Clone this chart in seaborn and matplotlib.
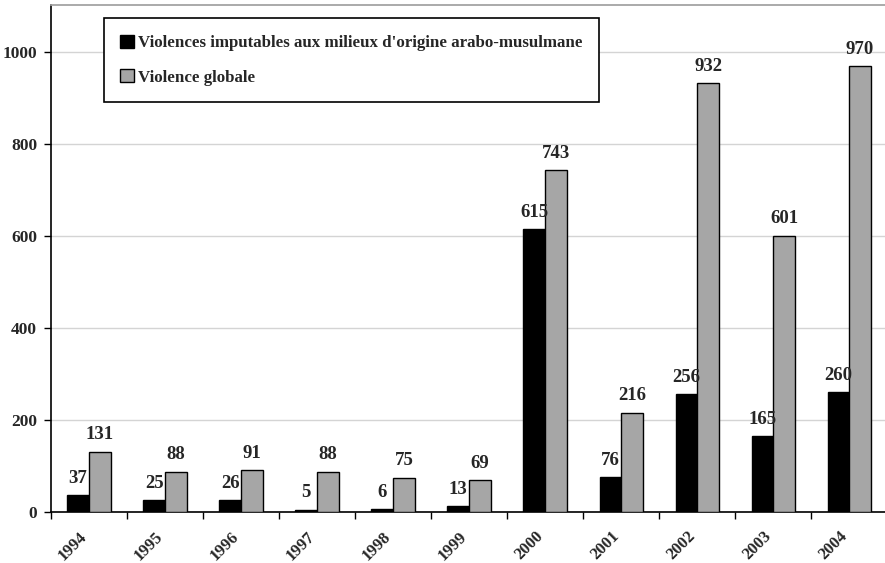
import numpy as np
import pandas as pd
import matplotlib
matplotlib.use("Agg")
import matplotlib.pyplot as plt
import matplotlib.transforms as mtransforms
import seaborn as sns
from matplotlib.ticker import FixedLocator

years = ["1994", "1995", "1996", "1997", "1998", "1999", "2000", "2001", "2002", "2003", "2004"]
arabo = [37, 25, 26, 5, 6, 13, 615, 76, 256, 165, 260]
globale = [131, 88, 91, 88, 75, 69, 743, 216, 932, 601, 970]
series_names = ["Violences imputables aux milieux d'origine arabo-musulmane", "Violence globale"]
yticks = [0, 200, 400, 600, 800, 1000]

df = pd.DataFrame({
    "annee": years * 2,
    "valeur": arabo + globale,
    "serie": [series_names[0]] * len(years) + [series_names[1]] * len(years),
})

sns.set_theme(style="white")
plt.rcParams["font.family"] = ["Liberation Serif", "DejaVu Serif"]
plt.rcParams["font.weight"] = "bold"

fig = plt.figure(figsize=(8.85, 5.63), dpi=100)
ax = fig.add_axes([0.0576, 0.0906, 0.945, 0.9])

sns.barplot(data=df, x="annee", y="valeur", hue="serie", order=years,
            hue_order=series_names, palette=["#000000", "#a6a6a6"],
            width=0.57, gap=0, edgecolor="black", linewidth=1.0,
            saturation=1, ax=ax, zorder=3)

ax.set_ylim(0, 1102)
ax.set_xlim(-0.5, len(years) - 0.5)
ax.set_yticks(yticks)
ax.set_yticklabels([str(v) for v in yticks], fontsize=12.5, fontweight="bold")
ax.yaxis.grid(True, color="#d4d4d4", linewidth=1.0, zorder=0)
ax.set_axisbelow(True)

# category labels at centres, tick marks on the boundaries
ax.set_xticks(range(len(years)))
ax.set_xticklabels(years, rotation=45, ha="right", rotation_mode="anchor",
                   fontsize=12, fontweight="bold")
ax.tick_params(axis="x", which="major", length=0, pad=9)
shift = mtransforms.ScaledTranslation(-10 / 100, -4 / 100, fig.dpi_scale_trans)
for lbl in ax.get_xticklabels():
    lbl.set_transform(lbl.get_transform() + shift)
ax.xaxis.set_minor_locator(FixedLocator(np.arange(-0.5, len(years), 1.0)))
ax.tick_params(axis="x", which="minor", length=5, width=1, color="black", direction="out", bottom=True)
ax.tick_params(axis="y", length=5, width=1, color="black", direction="out", left=True, pad=5)

ax.set_xlabel("")
ax.set_ylabel("")

for side in ["left", "bottom"]:
    ax.spines[side].set_color("black")
    ax.spines[side].set_linewidth(1.2)
ax.spines["top"].set_color("#a0a0a0")
ax.spines["right"].set_visible(False)

# value labels above every bar
for container in ax.containers:
    ax.bar_label(container, labels=[str(int(b.get_height())) for b in container],
                 padding=6, fontsize=13.5, fontweight="bold")

leg = ax.legend(loc="upper left", bbox_to_anchor=(0.063, 0.974), frameon=True,
                fancybox=False, edgecolor="black", framealpha=1,
                prop={"family": "Liberation Serif", "weight": "bold", "size": 12.2},
                handlelength=0.85, handleheight=0.85, handletextpad=0.25,
                labelspacing=1.05, borderpad=0.95, borderaxespad=0)
leg.get_frame().set_linewidth(1.2)

fig.savefig("out.png", dpi=100)
